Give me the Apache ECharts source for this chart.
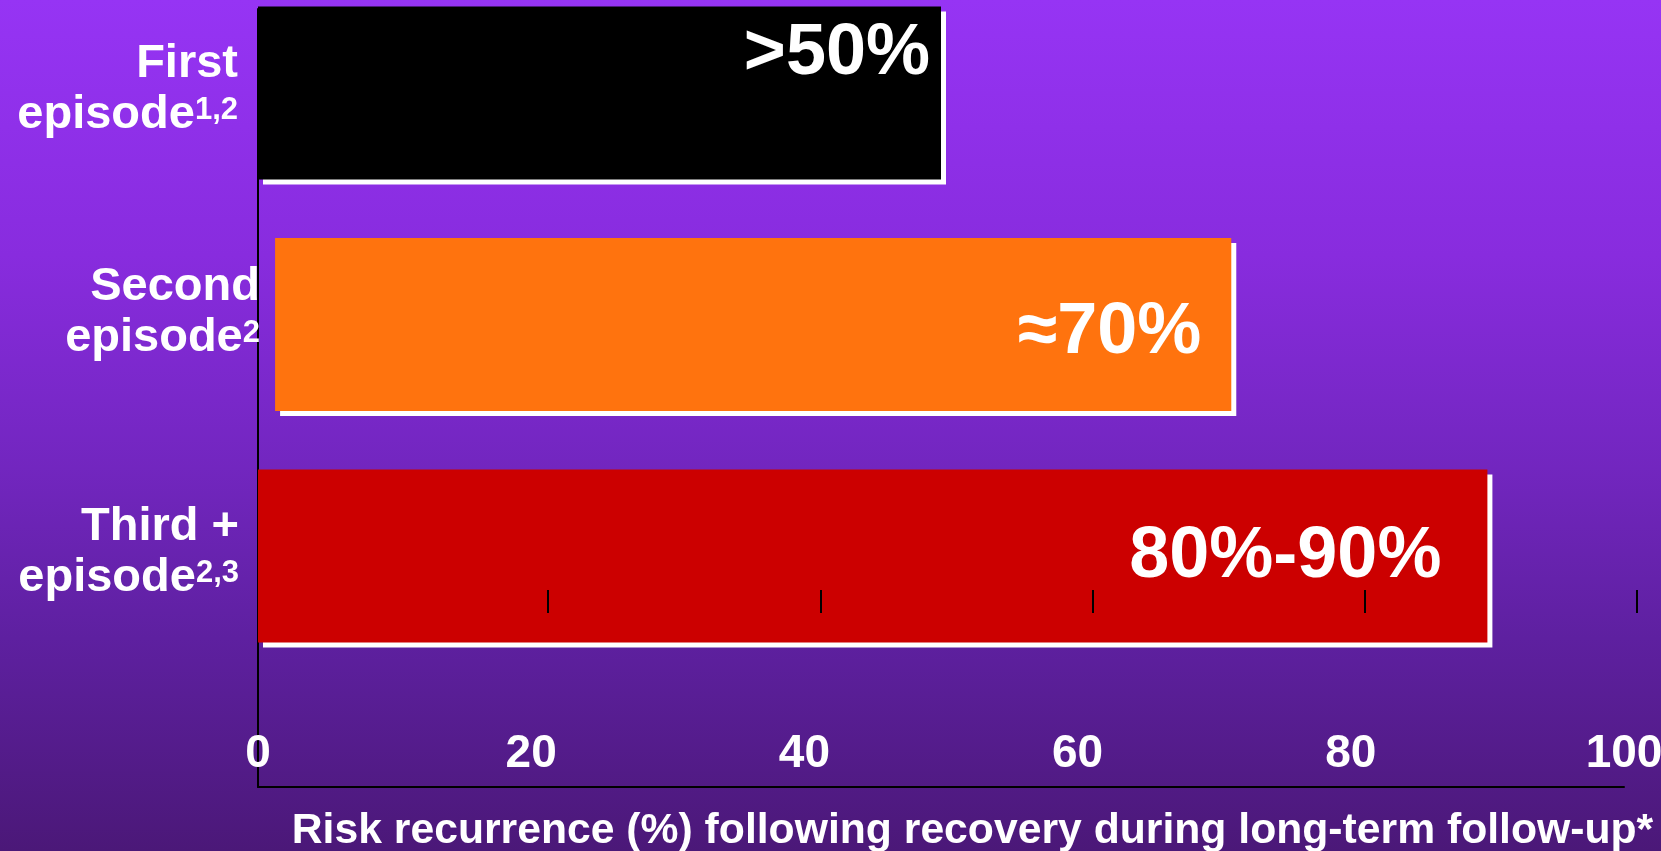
<!DOCTYPE html>
<html>
<head>
<meta charset="utf-8">
<script src="https://cdn.jsdelivr.net/npm/echarts/dist/echarts.min.js"></script>
<style>
  html, body { margin: 0; padding: 0; }
  #chart { width: 1661px; height: 851px; }
</style>
</head>
<body>
<div id="chart"></div>
<script>
// Episode categories, top to bottom, with their reference superscripts
const categories = ['First', 'Second', 'Third +'];
const categorySubline = ['episode', 'episode', 'episode'];
const superscripts = ['1,2', '2', '2,3'];

// Risk of recurrence (%) after recovery, one bar per episode
const barStart = [0, 1.25, 0];
const riskValues = [50, 70, 90];
const valueLabels = ['>50%', '≈70%', '80%-90%'];

// Axis scale
const axisMin = 0;
const axisMax = 100;
const axisStep = 20;
const markTickMin = 20;
const axisTitle = 'Risk recurrence (%) following recovery during long-term follow-up*';

// Styling
const FONT = '"Liberation Sans", Arial, sans-serif';
const barColors = ['#000000', '#FF730E', '#CC0000'];
const valueLabelShift = [[-6, -39], [-25, 9], [-41, 1]];
const catLabelPadRight = [22, 0, 21];
const catLabelGap = [7, 24, 7];

const rich = {};
categories.forEach((c, i) => {
  const base = { color: '#fff', fontFamily: FONT, fontWeight: 'bold', fontSize: 47, lineHeight: 51 };
  rich['a' + i] = Object.assign({}, base, { padding: [0, catLabelPadRight[i], 0, 0] });
  rich['e' + i] = Object.assign({}, base);
  rich['s' + i] = Object.assign({}, base, {
    fontSize: 31, verticalAlign: 'top', padding: [5, catLabelPadRight[i], 0, 0]
  });
  rich['g' + i] = { fontSize: 1, lineHeight: catLabelGap[i] };
});

const chart = echarts.init(document.getElementById('chart'), null, { renderer: 'canvas' });

chart.setOption({
  animation: false,
  backgroundColor: {
    type: 'linear', x: 0, y: 0, x2: 0, y2: 1,
    colorStops: [
      { offset: 0, color: '#9634F4' },
      { offset: 0.3, color: '#882CDE' },
      { offset: 0.55, color: '#7226BF' },
      { offset: 0.75, color: '#5E20A0' },
      { offset: 1, color: '#4B1878' }
    ]
  },
  grid: [
    { left: 258, right: 37, top: 93, bottom: 295, outerBoundsMode: 'none' },
    { left: 258, right: 37, top: 9, bottom: 64, outerBoundsMode: 'none' },
    { left: 548, right: 24, top: 400, bottom: 238, outerBoundsMode: 'none' }
  ],
  xAxis: [
    { gridIndex: 0, type: 'value', min: axisMin, max: axisMax, show: false },
    {
      gridIndex: 1, type: 'value', min: axisMin, max: axisMax, interval: axisStep,
      axisLine: { show: true, onZero: false, lineStyle: { color: '#000', width: 2 } },
      axisTick: { show: false },
      splitLine: { show: false },
      axisLabel: {
        inside: true, margin: 10, color: '#fff', fontFamily: FONT,
        fontWeight: 'bold', fontSize: 46
      },
      name: axisTitle,
      nameLocation: 'middle',
      nameGap: 23,
      nameTextStyle: {
        color: '#fff', fontFamily: FONT, fontWeight: 'bold', fontSize: 42.7,
        padding: [0, 0, 0, 63]
      }
    },
    {
      gridIndex: 2, type: 'value', min: markTickMin, max: axisMax, interval: axisStep,
      z: 10,
      axisLine: { show: false },
      axisTick: { show: true, inside: true, length: 23, lineStyle: { color: '#000', width: 2 } },
      axisLabel: { show: false },
      splitLine: { show: false }
    }
  ],
  yAxis: [
    {
      gridIndex: 0, type: 'category', inverse: true, boundaryGap: false,
      data: categories,
      axisLine: { show: false },
      axisTick: { show: false },
      splitLine: { show: false },
      axisLabel: {
        interval: 0, margin: -2, align: 'right',
        formatter: (value, index) =>
          `{a${index}|${value}}\n{e${index}|${categorySubline[index]}}{s${index}|${superscripts[index]}}\n{g${index}| }`,
        rich: rich
      }
    },
    {
      gridIndex: 1, type: 'value', min: 0, max: 1,
      axisLine: { show: true, onZero: false, lineStyle: { color: '#000', width: 2 } },
      axisTick: { show: false },
      axisLabel: { show: false },
      splitLine: { show: false }
    },
    { gridIndex: 2, type: 'value', show: false }
  ],
  series: [
    {
      name: 'offset',
      type: 'bar',
      xAxisIndex: 0, yAxisIndex: 0,
      stack: 'risk',
      barWidth: 173,
      clip: false,
      silent: true,
      itemStyle: { color: 'rgba(0,0,0,0)' },
      data: barStart
    },
    {
      name: 'Risk recurrence',
      type: 'bar',
      xAxisIndex: 0, yAxisIndex: 0,
      stack: 'risk',
      barWidth: 173,
      clip: false,
      itemStyle: {
        shadowColor: '#ffffff', shadowBlur: 0, shadowOffsetX: 5, shadowOffsetY: 5
      },
      label: {
        show: true,
        position: 'insideRight',
        distance: 5,
        color: '#fff',
        fontFamily: FONT,
        fontWeight: 'bold',
        fontSize: 72,
        formatter: (p) => valueLabels[p.dataIndex]
      },
      data: riskValues.map((v, i) => ({
        value: v,
        itemStyle: { color: barColors[i] },
        label: { offset: valueLabelShift[i] }
      }))
    }
  ]
});
</script>
</body>
</html>
